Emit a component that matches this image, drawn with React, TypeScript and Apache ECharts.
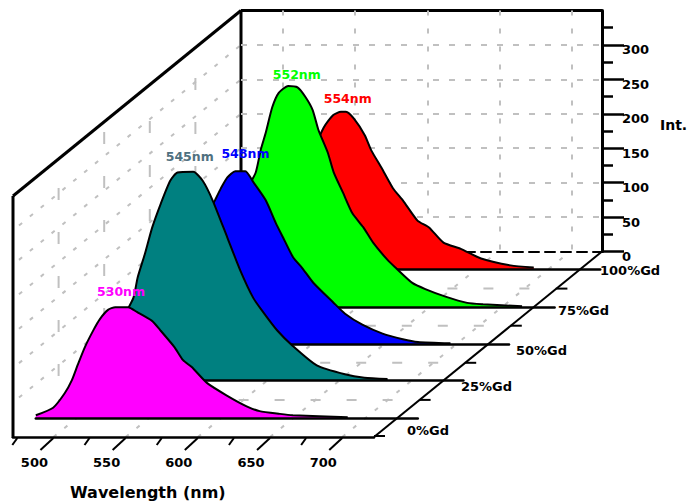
import React, { useEffect, useRef } from "react";
import * as echarts from "echarts";

const wavelengthLabels = [500, 550, 600, 650, 700];
const minorWavelengths = [475, 525, 575, 625, 675];
const intensityLabels = [0, 50, 100, 150, 200, 250, 300];
const intensityMinor = [25, 75, 125, 175, 225, 275, 325];
const depthLabels = ["0%Gd", "25%Gd", "50%Gd", "75%Gd", "100%Gd"];
const peakLabels = ["530nm", "545nm", "548nm", "552nm", "554nm"];

const gd0 = [[472,4],[484,15],[492,36],[497,55],[501,77],[506,103],[512,128],[516.5,144],[522,157],[527,161],[536,161],[542,154],[552.5,141],[558,128],[568,103],[574,84],[580,74],[590.5,51],[604,33],[618,17],[627,10],[641,6],[650,4],[688,1]];
const gd25 = [[472,3],[482,15],[492,44],[500,87],[508,120],[511,150],[516,184],[521,222],[527,257],[533.5,290],[538.5,302],[549.5,303],[556,290],[563,261],[573,208],[582,160],[591,120],[598,99],[607.5,73],[618,51],[635,22],[654.5,9],[668,4],[684,2]];
const gd50 = [[472,2],[485,15],[495,40],[505,80],[515,125],[525,175],[533,209],[537,226],[541.5,242],[547,251],[554,251],[559.5,235],[568,209],[575,176],[580,155],[587,126],[593.5,110],[601,89],[615,60],[623,44],[635,28],[649,15],[663,7],[673.5,3],[696,1]];
const gd75 = [[472,2],[490,20],[505,60],[515,110],[522,165],[529.5,195],[533,228],[536.5,253],[541,290],[545.5,311],[552,321],[558.5,319],[564,305],[569,286],[573,257],[579.5,224],[583.5,196],[590,166],[596.5,136],[604,116],[611,93],[621,68],[626.5,57],[638,35],[647,26],[661,15],[676,6],[687,4],[714,1]];
const gd100 = [[472,2],[490,20],[505,50],[520,100],[535,160],[545,206],[551.5,224],[557,229],[560.5,229],[566,219],[573.5,195],[578,173],[585,148],[593,118],[600,100],[610,71],[618,61],[628,39],[640,30],[654,16],[674.5,6],[690.5,3]];
const ridgeValues = [gd0, gd25, gd50, gd75, gd100];
const peakLabelAnchors = [[531,184],[547,325],[554,277],[558,338],[561.7,249]];

const FILLS = ["#ff00ff", "#008080", "#0000ff", "#00ff00", "#ff0000"];
const LABEL_COLORS = ["#ff00ff", "#4f7080", "#0000ff", "#00ff00", "#ff0000"];
const FONT = "'DejaVu Sans', sans-serif";
const GREY = "#c0c0c0";

// Layout of the oblique projection
const FRONT_X = 13, FRONT_Y = 437, WIDTH = 361, HEIGHT = 241;
const BACK_X = 241, BACK_Y = 251.5;
const DX = (BACK_X - FRONT_X) / 5;
const DY = (FRONT_Y - BACK_Y) / 5;
const WL_MIN = 472, WL_MAX = 722;
const PX_NM = WIDTH / (WL_MAX - WL_MIN);
const BASE_Y = [418, 380.5, 344, 307, 269.5];
const TAIL = 21;
const V_PX = HEIGHT / 350;
const depthLabelPos = [[407, 430], [461, 386], [516, 350.5], [558, 310.5], [600, 270]];
const wallDashStart = [188, 132, 121, 78];

function seg(x1: number, y1: number, x2: number, y2: number, stroke: string, lineWidth: number, lineDash?: number[]) {
  return {
    type: "line", silent: true, z: 0,
    shape: { x1, y1, x2, y2 },
    style: { stroke, lineWidth, lineDash, fill: null },
  };
}
function label(text: string, x: number, y: number, fontSize: number) {
  return {
    type: "text", silent: true, z: 5, x, y,
    style: { text, fontFamily: FONT, fontWeight: "bold", fontSize, fill: "#000", verticalAlign: "middle", align: "left" },
  };
}

function buildGraphic() {
  const els: any[] = [];
  const wallDash = [4, 10];
  // side-wall grid
  intensityLabels.slice(1).forEach((v) => {
    const h = v * V_PX;
    els.push(seg(FRONT_X + 6, FRONT_Y - h - 5, BACK_X, BACK_Y - h, GREY, 2, wallDash));
  });
  for (let k = 1; k < 5; k++) {
    const x = FRONT_X + DX * k, y = FRONT_Y - DY * k;
    els.push(seg(x, wallDashStart[k - 1], x, y, GREY, 2, [12, 32]));
  }
  // floor grid
  wavelengthLabels.forEach((w) => {
    const x = FRONT_X + (w - WL_MIN) * PX_NM;
    els.push(seg(x, FRONT_Y, x + BACK_X - FRONT_X, BACK_Y, GREY, 2, wallDash));
  });
  for (let k = 1; k < 5; k++) {
    const x = FRONT_X + DX * k, y = FRONT_Y - DY * k;
    els.push(seg(x, y, x + WIDTH, y, GREY, 2, [10, 26]));
  }
  // frame
  els.push(seg(FRONT_X, FRONT_Y + 1, FRONT_X, FRONT_Y - HEIGHT, "#000", 3));
  els.push(seg(FRONT_X, FRONT_Y - HEIGHT, BACK_X, BACK_Y - HEIGHT, "#000", 3));
  els.push(seg(BACK_X, BACK_Y, BACK_X, BACK_Y - HEIGHT, "#000", 3));
  els.push(seg(BACK_X, BACK_Y - HEIGHT, BACK_X + WIDTH, BACK_Y - HEIGHT, "#000", 3));
  els.push(seg(FRONT_X + WIDTH, FRONT_Y, BACK_X + WIDTH, BACK_Y, "#000", 2));
  // depth-axis short ticks
  for (let k = 0; k < 5; k++) {
    const x = FRONT_X + WIDTH + DX * k, y = FRONT_Y - DY * k - (k === 0 ? 1 : 0);
    els.push(seg(x, y, x + 11, y, "#000", 2));
  }
  depthLabels.forEach((t, i) => els.push(label(t, depthLabelPos[i][0], depthLabelPos[i][1], 13)));
  els.push(label("Int.", 660, 125, 14));
  els.push(label("Wavelength (nm)", 70, 492, 16));
  return els;
}

function renderFrontTick(params: any, api: any) {
  const w = api.value(0);
  const major = api.value(1) === 1;
  const p = api.coord([w, 0]);
  const children: any[] = [
    {
      type: "line",
      shape: { x1: p[0], y1: p[1] + 1, x2: p[0] - (major ? 13 : 5), y2: p[1] + (major ? 13 : 8) },
      style: { stroke: "#000", lineWidth: 2, fill: null },
    },
  ];
  if (major) {
    children.push({
      type: "text", x: p[0] - 19, y: p[1] + 25,
      style: { text: String(w), fontFamily: FONT, fontWeight: "bold", fontSize: 13, fill: "#000", align: "center", verticalAlign: "middle" },
    });
  }
  return { type: "group", children };
}

function buildOption() {
  const grid: any[] = [];
  const xAxis: any[] = [];
  const yAxis: any[] = [];
  const series: any[] = [];

  // back wall: grid 0
  grid.push({ left: BACK_X, top: BACK_Y - HEIGHT, width: WIDTH, height: HEIGHT });
  xAxis.push({
    type: "value", gridIndex: 0, min: 471, max: 721, z: 1,
    axisLine: { show: true, lineStyle: { color: "#000", width: 2, type: [10, 6] } },
    axisTick: { show: false, customValues: wavelengthLabels },
    axisLabel: { show: false, customValues: wavelengthLabels },
    splitLine: { show: true, lineStyle: { color: GREY, width: 2, type: [5, 13] } },
  });
  const yBase = { type: "value", gridIndex: 0, min: 0, max: 350, position: "right" };
  yAxis.push({
    ...yBase, interval: 50,
    axisLine: { show: true, lineStyle: { color: "#000", width: 3 } },
    axisTick: { show: true, length: 22, inside: false, lineStyle: { color: "#000", width: 2.5 }, customValues: intensityLabels },
    axisLabel: {
      show: true, margin: 20, verticalAlign: "top", lineHeight: 10, customValues: intensityLabels,
      fontFamily: FONT, fontWeight: "bold", fontSize: 13, color: "#000",
    },
    splitLine: { show: true, lineStyle: { color: GREY, width: 2, type: [6, 10] } },
  });
  yAxis.push({
    ...yBase,
    axisLine: { show: false },
    axisTick: { show: true, length: 11, lineStyle: { color: "#000", width: 2.5 }, customValues: intensityMinor },
    axisLabel: { show: false },
    splitLine: { show: false },
  });

  // one shifted grid per ridge (oblique projection)
  for (let i = 4; i >= 0; i--) {
    const gi = grid.length;
    const z = 10 + (4 - i) * 10;
    grid.push({
      left: FRONT_X + DX * (i + 0.5), top: BASE_Y[i] - HEIGHT,
      width: WIDTH + TAIL, height: HEIGHT,
    });
    xAxis.push({
      type: "value", gridIndex: gi, min: WL_MIN, max: WL_MAX + TAIL / PX_NM, z: z + 1,
      axisLine: { show: true, onZero: false, lineStyle: { color: "#000", width: 2.5 } },
      axisTick: { show: false }, axisLabel: { show: false }, splitLine: { show: false },
    });
    yAxis.push({ type: "value", gridIndex: gi, min: 0, max: 350, show: false, splitLine: { show: false } });
    series.push({
      type: "line", name: depthLabels[i], xAxisIndex: gi, yAxisIndex: yAxis.length - 1, z,
      data: ridgeValues[i], showSymbol: false, smooth: 0.2, silent: true,
      lineStyle: { color: "#000", width: 2 },
      itemStyle: { color: "#000" },
      areaStyle: { color: FILLS[i], opacity: 1 },
      markPoint: {
        silent: true, z: 100, symbol: "circle", symbolSize: 1, itemStyle: { color: "transparent" },
        data: [{
          coord: peakLabelAnchors[i],
          label: {
            show: true, position: "inside", formatter: peakLabels[i],
            fontFamily: FONT, fontWeight: "bold", fontSize: 12.5, color: LABEL_COLORS[i],
          },
        }],
      },
    });
  }

  // front edge with sheared ticks
  const gi = grid.length;
  grid.push({ left: FRONT_X, top: FRONT_Y - HEIGHT, width: WIDTH, height: HEIGHT });
  xAxis.push({
    type: "value", gridIndex: gi, min: WL_MIN, max: WL_MAX, z: 3,
    axisLine: { show: true, lineStyle: { color: "#000", width: 2.5 } },
    axisTick: { show: false }, axisLabel: { show: false }, splitLine: { show: false },
  });
  yAxis.push({ type: "value", gridIndex: gi, min: 0, max: 350, show: false, splitLine: { show: false } });
  series.push({
    type: "custom", xAxisIndex: gi, yAxisIndex: yAxis.length - 1, z: 5, silent: true, clip: false,
    data: [
      ...wavelengthLabels.map((w) => [w, 1]),
      ...minorWavelengths.map((w) => [w, 0]),
    ],
    renderItem: renderFrontTick,
  });

  return {
    animation: false,
    backgroundColor: "#fff",
    tooltip: { show: false },
    grid, xAxis, yAxis, series,
    graphic: { elements: buildGraphic() },
  };
}

export default function App() {
  const ref = useRef<HTMLDivElement>(null);
  useEffect(() => {
    const chart = echarts.init(ref.current!, undefined, { renderer: "svg" });
    chart.setOption(buildOption() as any);
    return () => chart.dispose();
  }, []);
  return <div ref={ref} style={{ position: "absolute", left: 0, top: 0, width: 690, height: 504 }} />;
}
